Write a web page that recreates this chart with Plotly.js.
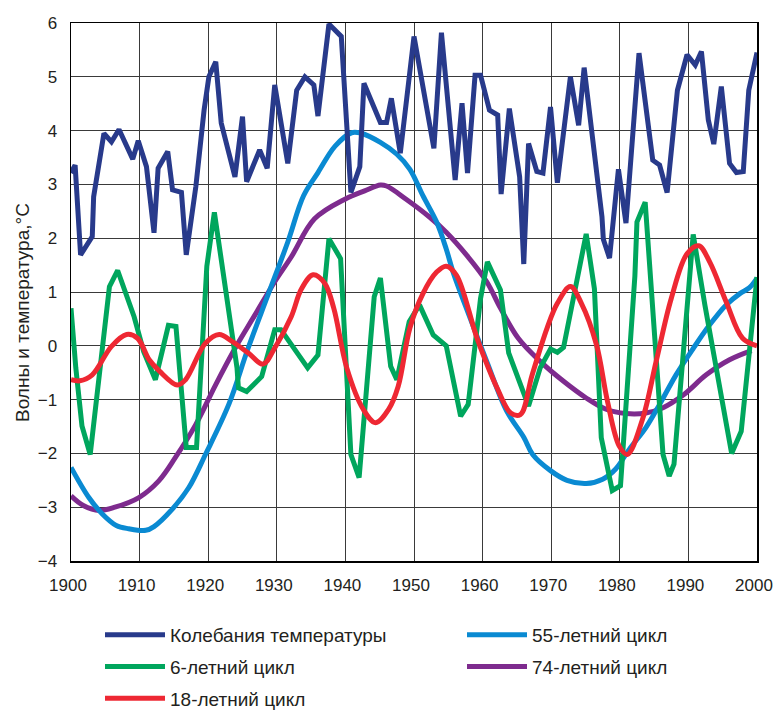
<!DOCTYPE html>
<html>
<head>
<meta charset="utf-8">
<script src="https://cdn.plot.ly/plotly-3.0.1.min.js"></script>
<style>html,body{margin:0;padding:0;background:#fff;}</style>
</head>
<body>
<div id="chart" style="width:773px;height:710px;"></div>
<script>
// ---- data ----
const seriesNames = ["Колебания температуры", "6-летний цикл", "18-летний цикл", "55-летний цикл", "74-летний цикл"];

const tempYears = [1900,1900.6,1901.4,1903.1,1903.3,1904.8,1905.9,1907.0,1909.0,1909.8,1911.0,1912.1,1912.7,1914.1,1914.8,1916.1,1916.8,1918.2,1919.4,1920.1,1921.1,1921.9,1923.9,1925.0,1925.6,1927.5,1928.6,1929.7,1931.6,1932.9,1934.1,1935.4,1936.0,1937.6,1939.4,1940.8,1942.1,1942.7,1945.1,1946.0,1946.7,1948.0,1950.0,1952.9,1954.0,1956.0,1957.0,1957.8,1958.9,1959.7,1961.0,1962.2,1962.7,1963.9,1965.4,1966.0,1966.7,1967.9,1968.8,1969.9,1970.9,1972.8,1974.0,1974.8,1977.4,1977.6,1978.5,1979.8,1980.9,1982.8,1984.8,1985.8,1986.9,1988.4,1989.8,1991.0,1991.9,1992.9,1993.7,1994.8,1996.0,1997.0,1998.0,1998.8,2000];
const tempValues = [3.21,3.36,1.69,2.03,2.77,3.95,3.79,4.02,3.47,3.81,3.33,2.10,3.30,3.61,2.90,2.85,1.69,2.96,4.38,5.00,5.28,4.14,3.14,4.26,3.05,3.64,3.30,4.85,3.39,4.75,5.00,4.85,4.27,5.98,5.75,2.85,3.33,4.88,4.15,4.15,4.60,3.58,5.75,3.67,5.82,3.08,4.51,3.21,5.03,5.03,4.38,4.29,2.82,4.41,3.14,1.52,3.76,3.24,3.21,4.44,3.03,5.00,4.10,5.17,2.40,1.98,1.63,3.28,2.28,5.44,3.45,3.36,2.85,4.75,5.41,5.22,5.47,4.20,3.75,4.82,3.39,3.22,3.24,4.75,5.45];

const cycle6Years = [1900,1900.7,1901.6,1902.8,1905.6,1906.8,1909.2,1910.6,1912.3,1914.2,1915.3,1916.8,1918.3,1919.8,1920.9,1924.2,1924.4,1925.6,1927.8,1929.7,1930.6,1934.5,1936.0,1937.6,1939.3,1940.8,1942.0,1944.2,1945.1,1946.6,1947.5,1949.3,1950.8,1952.8,1954.7,1956.8,1957.9,1959.7,1960.7,1962.6,1963.8,1966.7,1968.4,1969.9,1970.9,1971.8,1975.1,1976.3,1977.3,1978.9,1980.1,1982.2,1982.5,1983.7,1986.3,1987.2,1987.9,1990.7,1992.4,1996.3,1997.7,2000];
const cycle6Values = [0.70,-0.41,-1.49,-2.02,1.10,1.40,0.54,-0.11,-0.63,0.38,0.36,-1.89,-1.89,1.48,2.48,-0.41,-0.78,-0.85,-0.57,0.30,0.30,-0.41,-0.17,1.99,1.62,-2.02,-2.45,0.91,1.26,-0.38,-0.63,0.45,0.76,0.20,0.00,-1.31,-1.09,0.88,1.56,1.04,-0.13,-1.12,-0.41,-0.06,-0.12,-0.03,2.08,1.06,-1.71,-2.69,-2.60,1.30,2.30,2.67,-2.02,-2.42,-2.20,2.07,0.76,-2.00,-1.59,1.28];

const cycle18Years = [1900,1901.3,1903.1,1905.9,1908.1,1909.7,1911.4,1912.9,1915.5,1916.7,1919.6,1921.6,1923.5,1925.9,1928.0,1929.7,1932.1,1933.6,1935.3,1937.0,1938.3,1940.2,1942.6,1944.4,1946.3,1947.7,1949.4,1951.3,1953.3,1954.7,1956.2,1959.2,1962.1,1964.1,1965.5,1967.2,1969.4,1970.9,1972.8,1974.4,1976.6,1978.2,1979.9,1981.1,1983.3,1985.3,1987.5,1989.8,1991.5,1993.1,1995.5,1997.9,2000];
const cycle18Values = [-0.63,-0.65,-0.54,-0.01,0.21,0.14,-0.26,-0.47,-0.73,-0.63,0.05,0.21,0.08,-0.14,-0.34,-0.04,0.54,1.06,1.32,1.16,0.70,-0.41,-1.18,-1.43,-1.18,-0.75,0.33,0.97,1.37,1.48,1.31,0.14,-0.78,-1.25,-1.28,-0.55,0.33,0.79,1.10,0.79,0.02,-1.03,-1.86,-2.02,-1.37,-0.29,0.88,1.71,1.86,1.56,0.82,0.14,0.00];

const cycle55Years = [1900,1902.6,1904.6,1906.6,1908.4,1910.9,1912.1,1914.8,1917.2,1919.6,1923.0,1925.8,1928.7,1931.6,1933.9,1936.0,1938.5,1940.9,1942.3,1945.1,1947.5,1949.4,1951.3,1953.3,1954.7,1955.7,1958.2,1960.6,1963.5,1966.0,1967.3,1969.9,1972.3,1975.1,1977.5,1979.4,1981.4,1983.8,1985.8,1988.2,1990.7,1993.1,1995.5,1997.5,1998.9,2000];
const cycle55Values = [-2.26,-2.82,-3.13,-3.34,-3.40,-3.43,-3.36,-3.03,-2.63,-2.02,-1.09,-0.05,0.94,1.93,2.79,3.22,3.71,3.96,3.95,3.78,3.56,3.28,2.79,2.30,1.80,1.37,0.51,-0.29,-1.21,-1.70,-2.02,-2.32,-2.50,-2.56,-2.48,-2.29,-1.92,-1.52,-1.09,-0.54,-0.05,0.39,0.76,0.97,1.08,1.26];

const cycle74Years = [1900,1901.8,1904.1,1906.4,1909.9,1912.8,1915.2,1918.2,1921.1,1923.9,1926.8,1929.7,1932.1,1935.5,1940.0,1942.8,1945.1,1946.0,1948.8,1952.3,1954.7,1957.7,1960.6,1962.6,1965.2,1968.4,1971.8,1975.1,1978.0,1980.9,1983.8,1986.3,1989.3,1992.6,1996.0,1999.2];
const cycle74Values = [-2.79,-2.97,-3.06,-3.00,-2.82,-2.51,-2.08,-1.46,-0.72,-0.05,0.57,1.19,1.65,2.36,2.73,2.88,2.99,2.97,2.73,2.39,2.11,1.68,1.19,0.70,0.14,-0.29,-0.66,-0.97,-1.18,-1.26,-1.25,-1.15,-0.91,-0.54,-0.26,-0.09];

const xTickVals = [1900,1910,1920,1930,1940,1950,1960,1970,1980,1990,2000];
const yTickVals = [-4,-3,-2,-1,0,1,2,3,4,5,6];
const yTitle = "Волны и температура,°С";

// ---- styles ----
const colors = {temp:'#283A8B', c6:'#00A65D', c18:'#EE2833', c55:'#0A8AD2', c74:'#7E2B8E'};
const LW = 5;
const FONT = 'Liberation Sans, Arial, Helvetica, sans-serif';

const traces = [
  {x: cycle74Years, y: cycle74Values, name: seriesNames[4], legend:'legend2', legendgroup:'g74', legendrank:2,
   mode:'lines', line:{color:colors.c74, width:LW, shape:'spline', smoothing:1}},
  {x: cycle55Years, y: cycle55Values, name: seriesNames[3], legend:'legend2', legendgroup:'g55', legendrank:1,
   mode:'lines', line:{color:colors.c55, width:LW, shape:'spline', smoothing:1}},
  {x: cycle6Years, y: cycle6Values, name: seriesNames[1], legend:'legend', legendgroup:'g6', legendrank:2,
   mode:'lines', line:{color:colors.c6, width:LW}},
  {x: cycle18Years, y: cycle18Values, name: seriesNames[2], legend:'legend', legendgroup:'g18', legendrank:3,
   mode:'lines', line:{color:colors.c18, width:LW, shape:'spline', smoothing:1}},
  {x: tempYears, y: tempValues, name: seriesNames[0], legend:'legend', legendgroup:'gt', legendrank:1,
   mode:'lines', line:{color:colors.temp, width:LW}}
];

const legendCommon = {
  orientation:'v', xanchor:'left', yanchor:'top', y:-0.102,
  itemwidth:60, tracegroupgap:4, bgcolor:'rgba(0,0,0,0)', borderwidth:0,
  font:{family:FONT, size:19, color:'#231f20'}, itemclick:false, itemdoubleclick:false
};

const layout = {
  width:773, height:710,
  margin:{l:71, r:16, t:23, b:149, autoexpand:false},
  paper_bgcolor:'#ffffff', plot_bgcolor:'#ffffff',
  font:{family:FONT, size:17, color:'#231f20'},
  showlegend:true,
  xaxis:{
    range:[1900,2000], tickvals:xTickVals, ticks:'', showgrid:true, gridcolor:'#3a3a3a', gridwidth:1,
    zeroline:false, showline:true, linecolor:'#000', linewidth:1.5, mirror:true, automargin:false,
    tickfont:{family:FONT, size:17, color:'#231f20'}, ticklabelstandoff:8, ticklabelshift:-3,
    ticklabeloverflow:'allow', fixedrange:true
  },
  yaxis:{
    range:[-4,6], tickvals:yTickVals, ticks:'', showgrid:true, gridcolor:'#3a3a3a', gridwidth:1,
    zeroline:false, showline:true, linecolor:'#000', linewidth:1.5, mirror:true, automargin:false,
    tickfont:{family:FONT, size:17, color:'#231f20'}, ticklabelstandoff:9, fixedrange:true
  },
  annotations:[{
    text: yTitle, textangle:-90, showarrow:false,
    xref:'paper', yref:'paper', x:(22-71)/686, y:(561-313)/538, xanchor:'center', yanchor:'middle',
    font:{family:FONT, size:19, color:'#231f20'}
  }],
  legend: Object.assign({}, legendCommon, {x:(100-71)/686}),
  legend2: Object.assign({}, legendCommon, {x:(462-71)/686})
};

Plotly.newPlot('chart', traces, layout, {displayModeBar:false, staticPlot:true});
</script>
</body>
</html>
